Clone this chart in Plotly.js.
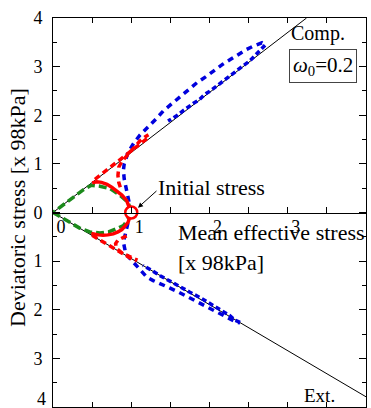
<!DOCTYPE html>
<html><head><meta charset="utf-8">
<script src="https://cdn.plot.ly/plotly-3.0.1.min.js"></script>
<style>html,body{margin:0;padding:0;background:#fff;}#g{width:371px;height:408px;}</style>
</head><body><div id="g"></div>
<script>
// Critical state lines
const cslCompX = [0, 3.24];
const cslCompY = [0, 4];
const cslExtX = [0, 4];
const cslExtY = [0, -3.79];

// Compression side
const greenCompX = [1.0, 0.96, 0.86, 0.73, 0.6, 0.49, 0.39, 0.26, 0.13, 0.0];
const greenCompY = [0.02, 0.21, 0.35, 0.49, 0.54, 0.56, 0.47, 0.31, 0.15, 0.0];
const redSolidCompX = [1.0, 0.97, 0.94, 0.88, 0.81, 0.75, 0.69, 0.62, 0.56, 0.5];
const redSolidCompY = [0.0, 0.13, 0.25, 0.36, 0.45, 0.52, 0.58, 0.62, 0.63, 0.61];
const redDashACompX = [0.86, 0.84, 0.83, 0.84, 0.88, 0.93, 1.03, 1.11, 1.18, 1.22];
const redDashACompY = [0.52, 0.62, 0.76, 0.93, 1.05, 1.14, 1.33, 1.47, 1.56, 1.6];
const redDashBCompX = [1.2, 1.1, 0.95, 0.82, 0.7, 0.58, 0.52];
const redDashBCompY = [1.52, 1.39, 1.2, 1.04, 0.89, 0.74, 0.66];
const blueDashCompX = [1.0, 0.98, 0.96, 0.93, 0.91, 0.9, 0.91, 0.96, 1.03, 1.11, 1.22, 1.32, 1.41, 1.52, 1.62, 1.73, 1.84, 1.95, 2.06, 2.17, 2.27, 2.38, 2.47, 2.57, 2.67, 2.71];
const blueDashCompY = [0.0, 0.14, 0.35, 0.52, 0.69, 0.87, 1.0, 1.24, 1.42, 1.59, 1.76, 1.93, 2.09, 2.24, 2.38, 2.52, 2.67, 2.79, 2.93, 3.05, 3.15, 3.27, 3.35, 3.43, 3.49, 3.44];
const blueDotCompX = [2.71, 2.64, 2.58, 2.51, 2.44, 2.37, 2.30, 2.23, 2.15, 2.08, 2.01, 1.94, 1.87, 1.79, 1.73, 1.66, 1.59, 1.54, 1.47];
const blueDotCompY = [3.44, 3.33, 3.22, 3.11, 3.03, 2.94, 2.86, 2.76, 2.67, 2.58, 2.50, 2.43, 2.32, 2.24, 2.16, 2.09, 2.0, 1.95, 1.88];

// Extension side
const greenExtX = [0.0, 0.11, 0.22, 0.34, 0.47, 0.6, 0.71, 0.81, 0.9, 0.96, 0.99];
const greenExtY = [0.0, -0.1, -0.21, -0.32, -0.4, -0.42, -0.4, -0.34, -0.27, -0.14, -0.03];
const redSolidExtX = [1.0, 0.98, 0.96, 0.92, 0.88, 0.83, 0.77, 0.7, 0.64, 0.58, 0.54, 0.49];
const redSolidExtY = [0.0, -0.1, -0.2, -0.28, -0.35, -0.4, -0.44, -0.46, -0.47, -0.46, -0.45, -0.43];
const redDashAExtX = [0.94, 0.88, 0.83, 0.8, 0.81, 0.87, 0.95, 1.02, 1.08];
const redDashAExtY = [-0.48, -0.52, -0.57, -0.64, -0.73, -0.82, -0.89, -0.94, -0.98];
const redDashBExtX = [0.5, 0.6, 0.7, 0.8, 0.9, 1.0, 1.06];
const redDashBExtY = [-0.47, -0.57, -0.66, -0.76, -0.85, -0.95, -1.0];
const blueDashExtX = [1.0, 0.98, 0.95, 0.92, 0.9, 0.93, 1.0, 1.1, 1.2, 1.28, 1.39, 1.49, 1.62, 1.75, 1.88, 2.01, 2.13, 2.26, 2.35, 2.39];
const blueDashExtY = [0.0, -0.06, -0.27, -0.44, -0.61, -0.85, -0.98, -1.17, -1.33, -1.40, -1.47, -1.55, -1.65, -1.76, -1.88, -1.99, -2.09, -2.19, -2.26, -2.27];
const blueDotExtX = [2.39, 2.32, 2.26, 2.13, 2.01, 1.88, 1.75, 1.62, 1.49, 1.37, 1.25, 1.15];
const blueDotExtY = [-2.26, -2.21, -2.12, -1.99, -1.86, -1.75, -1.64, -1.53, -1.40, -1.30, -1.18, -1.09];

const initX = [1.0];
const initY = [0.0];

const yTickVals = [-3, -2, -1, 0, 1, 2, 3, 4];
const yTickText = ['3', '2', '1', '0', '1', '2', '3', '4'];
const xTickVals = [0, 0.5, 1, 1.5, 2, 2.5, 3, 3.5, 4];
const xTickText = ['0', '', '1', '', '2', '', '3', '', '4'];

const GREEN = '#1b8a1b', RED = '#ff0000', BLUE = '#0000dd';
const W = 3.5;
function tr(x, y, color, dash, width) {
  return {x: x, y: y, type: 'scatter', mode: 'lines', line: {color: color, dash: dash, width: width || W}, hoverinfo: 'skip', showlegend: false};
}
const data = [
  tr(cslCompX, cslCompY, '#000', 'solid', 1),
  tr(cslExtX, cslExtY, '#000', 'solid', 1),
  tr(blueDashCompX, blueDashCompY, BLUE, '6px,5px'),
  tr(blueDotCompX, blueDotCompY, BLUE, '5px,3px'),
  tr(blueDashExtX, blueDashExtY, BLUE, '6px,5px'),
  tr(blueDotExtX, blueDotExtY, BLUE, '5px,3px'),
  tr(redDashACompX, redDashACompY, RED, '6px,4px'),
  tr(redDashBCompX, redDashBCompY, RED, '6px,4px'),
  tr(redDashAExtX, redDashAExtY, RED, '6px,4px'),
  tr(redDashBExtX, redDashBExtY, RED, '6px,4px'),
  tr(greenCompX, greenCompY, GREEN, '8px,4px'),
  tr(greenExtX, greenExtY, GREEN, '8px,4px'),
  tr(redSolidCompX, redSolidCompY, RED, 'solid'),
  tr(redSolidExtX, redSolidExtY, RED, 'solid'),
  {x: initX, y: initY, type: 'scatter', mode: 'markers', marker: {size: 12, color: '#fff', line: {color: RED, width: 2.5}}, hoverinfo: 'skip', showlegend: false, cliponaxis: false},
  // carrier trace so the zero-line x axis is drawn
  {x: [0], y: [0], xaxis: 'x2', yaxis: 'y', type: 'scatter', mode: 'markers', marker: {opacity: 0}, hoverinfo: 'skip', showlegend: false}
];

const FONT = "'Liberation Serif', 'Times New Roman', serif";
const PT = 18, PH = 389, PL = 53, PW = 313;
function px(x) { return (x - PL) / PW; }
function py(y) { return (PT + PH - y) / PH; }
const layout = {
  width: 371, height: 408,
  margin: {l: 53, r: 5, t: 18, b: 1},
  paper_bgcolor: '#fff', plot_bgcolor: '#fff',
  font: {family: FONT, color: '#000', size: 18},
  showlegend: false,
  xaxis: {
    range: [0, 4], showgrid: false, zeroline: false,
    showline: true, linecolor: '#000', linewidth: 1, mirror: 'ticks',
    ticks: 'inside', ticklen: 5, tickcolor: '#000', dtick: 0.5, tick0: 0,
    showticklabels: false
  },
  xaxis2: {
    overlaying: 'x', anchor: 'free', position: 0.5, range: [0, 4], side: 'bottom',
    showgrid: false, zeroline: false, showline: true, linecolor: '#000', linewidth: 1,
    ticks: 'inside', ticklen: 6, tickcolor: '#000',
    tickmode: 'array', tickvals: xTickVals, ticktext: xTickText,
    ticklabelshift: 8, ticklabelstandoff: -2,
    tickfont: {family: FONT, size: 18, color: '#000'}
  },
  yaxis: {
    range: [-4, 4], showgrid: false, zeroline: false,
    showline: true, linecolor: '#000', linewidth: 1, mirror: 'ticks',
    ticks: 'inside', ticklen: 7, tickcolor: '#000',
    tickmode: 'array', tickvals: yTickVals, ticktext: yTickText,
    minor: {ticks: 'inside', ticklen: 4, tickcolor: '#000', dtick: 0.5, tick0: 0},
    ticklabelstandoff: 6,
    tickfont: {family: FONT, size: 18, color: '#000'}
  },
  annotations: [
    {xref: 'paper', yref: 'paper', x: px(41), y: py(399), xanchor: 'center', yanchor: 'middle',
     text: '4', showarrow: false, font: {family: FONT, size: 18}},
    {xref: 'paper', yref: 'paper', x: px(17), y: py(208), xanchor: 'center', yanchor: 'middle',
     text: 'Deviatoric stress [x 98kPa]', textangle: -90, showarrow: false, font: {family: FONT, size: 22}},
    {xref: 'x', yref: 'y', x: 1.57, y: -0.41, xanchor: 'left', yanchor: 'middle',
     text: 'Mean effective stress', showarrow: false, font: {family: FONT, size: 22}},
    {xref: 'x', yref: 'y', x: 1.57, y: -1.03, xanchor: 'left', yanchor: 'middle',
     text: '[x 98kPa]', showarrow: false, font: {family: FONT, size: 22}},
    {xref: 'x', yref: 'y', x: 1.31, y: 0.52, xanchor: 'left', yanchor: 'middle',
     text: 'Initial stress', showarrow: false, font: {family: FONT, size: 22}},
    {xref: 'x', yref: 'y', x: 1.086, y: 0.1, ax: 20, ay: -18, text: '', showarrow: true,
     arrowhead: 2, arrowsize: 1, arrowwidth: 1, arrowcolor: '#000'},
    {xref: 'paper', yref: 'paper', x: px(318), y: py(33), xanchor: 'center', yanchor: 'middle',
     text: 'Comp.', showarrow: false, font: {family: FONT, size: 20}},
    {xref: 'paper', yref: 'paper', x: px(323), y: py(66), xanchor: 'center', yanchor: 'middle',
     text: '<i>ω</i><sub>0</sub>=0.2', showarrow: false, font: {family: FONT, size: 21},
     bordercolor: '#444', borderwidth: 1, borderpad: 3, bgcolor: '#fff'},
    {xref: 'paper', yref: 'paper', x: px(319), y: py(395), xanchor: 'center', yanchor: 'middle',
     text: 'Ext.', showarrow: false, font: {family: FONT, size: 19}}
  ]
};
Plotly.newPlot('g', data, layout, {staticPlot: true, displayModeBar: false});
</script></body></html>
